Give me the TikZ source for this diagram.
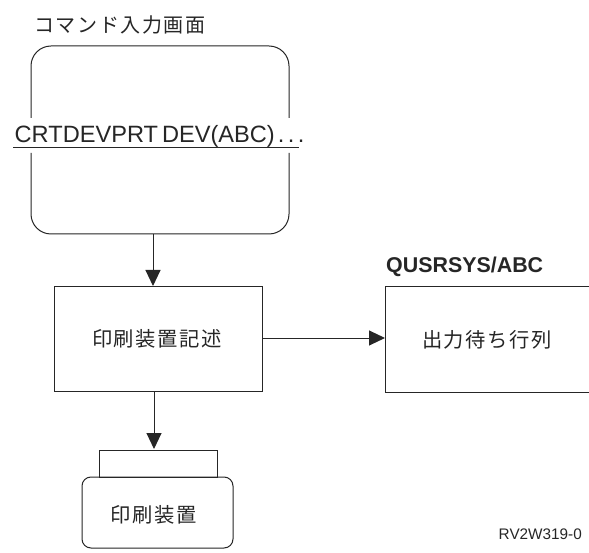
\documentclass[tikz,border=0pt]{standalone}
\usepackage{fontspec}
\setmainfont{Liberation Sans}
\newfontfamily\cjk[LetterSpace=8]{Noto Sans CJK JP}
\usetikzlibrary{arrows.meta}
\tikzset{
  line/.style={draw=black!85,line width=1pt},
  conn/.style={line,-{Triangle[length=16pt,width=15pt,fill=black!85]}},
  jp/.style={inner sep=0pt,text=black!85,font=\fontsize{20.3}{20}\selectfont\cjk},
  lat/.style={inner sep=0pt,text=black!85}
}
\begin{document}
\begin{tikzpicture}[x=1pt,y=-1pt]
\useasboundingbox (0,0) rectangle (589,553);
\fill[white] (0,0) rectangle (589,553);
\node[jp,font=\fontsize{20}{20}\selectfont\cjk] (title) at (120,25) {コマンド入力画面};
% screen
\draw[line,rounded corners=20pt] (31,118) -- (31,46) -- (289,46) -- (289,118);
\draw[line,rounded corners=20pt] (31,153) -- (31,234) -- (289,234) -- (289,153);
\coordinate (scrb) at (153,234);
\node[lat,font=\fontsize{23.6}{25}\selectfont,anchor=base west] (cmd) at (14.5,143) {CRTDEVPRT\kern4pt DEV(ABC)\kern3pt.\kern3.5pt.\kern3.5pt.};
\draw[line] (13,148) -- (299,148);
% device description
\node[draw=black!85,line width=1pt,minimum width=208pt,minimum height=104pt,inner sep=0pt] (desc) at (158,339) {};
\node[jp] (desct) at (157,339) {印刷装置記述};
% output queue
\coordinate (ql) at (385,338);
\draw[line] (589,287) -- (385,287) -- (385,392) -- (589,392);
\node[lat,font=\bfseries\fontsize{21.4}{21}\selectfont,anchor=base west] (qname) at (386,273) {QUSRSYS/ABC};
\node[jp] (qt) at (487,340) {出力待ち行列};
% printer
\node[draw=black!85,line width=1pt,minimum width=118pt,minimum height=27pt,inner sep=0pt] (paper) at (158,463.5) {};
\node[draw=black!85,line width=1pt,rounded corners=9pt,minimum width=151pt,minimum height=71pt,inner sep=0pt] (prt) at (157.5,512.5) {};
\node[jp] (prtt) at (154,515) {印刷装置};
\node[lat,font=\fontsize{15.3}{15}\selectfont,anchor=base east] (rv) at (582,539) {RV2W319-0};
% connectors
\draw[conn] (scrb) -- (153,286);
\draw[conn] (desc.east) ++(0,-1) -- (ql);
\coordinate (db) at (154,391);
\draw[conn] (db) -- (154,449);
\end{tikzpicture}
\end{document}
